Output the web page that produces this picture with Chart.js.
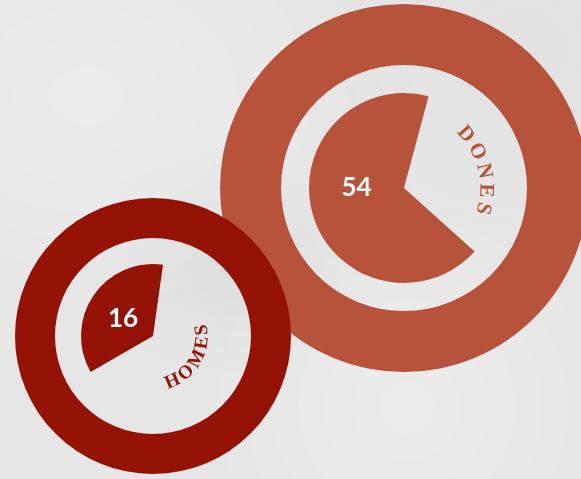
<!DOCTYPE html>
<html>
<head>
<meta charset="utf-8">
<script src="https://cdn.jsdelivr.net/npm/chart.js@4.4.1/dist/chart.umd.min.js"></script>
<style>
  html, body { margin: 0; padding: 0; width: 581px; height: 479px; overflow: hidden; }
  body {
    background-color: #e6e6e6;
    background-image:
      radial-gradient(ellipse at 15% 20%, rgba(255,255,255,0.3), rgba(255,255,255,0) 40%),
      radial-gradient(ellipse at 70% 85%, rgba(255,255,255,0.3), rgba(255,255,255,0) 35%),
      radial-gradient(ellipse at 40% 55%, rgba(205,205,205,0.3), rgba(205,205,205,0) 30%),
      radial-gradient(ellipse at 90% 10%, rgba(215,215,215,0.3), rgba(215,215,215,0) 30%);
  }
  .wrap { position: absolute; }
  #bigWrap { left: 220px; top: 4px; width: 368px; height: 368px; }
  #smallWrap { left: 15px; top: 198px; width: 276px; height: 276px; }
</style>
</head>
<body>
<div class="wrap" id="bigWrap"><canvas id="bigChart"></canvas></div>
<div class="wrap" id="smallWrap"><canvas id="smallChart"></canvas></div>
<script>
// values
const categories = ["DONES", "HOMES"];
const values = [54, 16];
const remainders = [26, 29]; // unfilled part of each pie
const colors = ["#b6533a", "#931203"];

// draws the curved category name and the value inside the pie
const curvedText = {
  id: "curvedText",
  afterDatasetsDraw(chart, args, opts) {
    const arc = chart.getDatasetMeta(2).data[0];
    const { x, y, outerRadius } = arc.getProps(["x", "y", "outerRadius"], true);
    const ctx = chart.ctx;
    ctx.save();
    ctx.textAlign = "center";
    ctx.textBaseline = "middle";

    // category name along an arc, letters spaced by their own width
    ctx.font = opts.font;
    ctx.fillStyle = opts.color;
    const r = outerRadius * opts.radius;
    const chars = opts.text.split("");
    const widths = chars.map(ch => ctx.measureText(ch).width + opts.spacing);
    const total = widths.reduce((s, w) => s + w, 0);
    const dir = opts.inward ? -1 : 1;
    let run = -total / 2;
    chars.forEach((ch, i) => {
      const a = opts.center * Math.PI / 180 + dir * (run + widths[i] / 2) / r;
      run += widths[i];
      ctx.save();
      ctx.translate(x + r * Math.sin(a), y - r * Math.cos(a));
      ctx.rotate(a + (opts.inward ? Math.PI : 0));
      ctx.fillText(ch, 0, 0);
      ctx.restore();
    });

    // value
    const va = opts.valueAngle * Math.PI / 180;
    const vr = outerRadius * opts.valueRadius;
    ctx.font = "bold 26px Lato";
    ctx.fillStyle = "#ffffff";
    ctx.fillText(String(opts.value), x + vr * Math.sin(va), y - vr * Math.cos(va));
    ctx.restore();
  }
};

function makeChart(id, idx, weights, rotation, label) {
  new Chart(document.getElementById(id), {
    type: "doughnut",
    data: {
      labels: [categories[idx], ""],
      datasets: [
        { data: [1], backgroundColor: [colors[idx]], weight: weights[0] },
        { data: [1], backgroundColor: ["rgba(0,0,0,0)"], weight: weights[1] },
        {
          data: [values[idx], remainders[idx]],
          backgroundColor: [colors[idx], "rgba(0,0,0,0)"],
          weight: weights[2],
          rotation: rotation
        }
      ]
    },
    options: {
      responsive: true,
      maintainAspectRatio: false,
      animation: false,
      cutout: 0,
      borderWidth: 0,
      layout: { padding: 0 },
      plugins: {
        legend: { display: false },
        tooltip: { enabled: false },
        curvedText: Object.assign({ text: categories[idx], value: values[idx], color: colors[idx] }, label)
      }
    },
    plugins: [curvedText]
  });
}

makeChart("bigChart", 0, [61, 28, 95], 132, {
  font: "bold 21px 'Liberation Serif'", radius: 0.86, center: 76, spacing: 5, inward: false,
  valueAngle: 270, valueRadius: 0.5
});
makeChart("smallChart", 1, [40, 26, 72], 240, {
  font: "bold 19px 'Liberation Serif'", radius: 0.69, center: 121, spacing: 1.5, inward: true,
  valueAngle: 300, valueRadius: 0.48
});
</script>
</body>
</html>
